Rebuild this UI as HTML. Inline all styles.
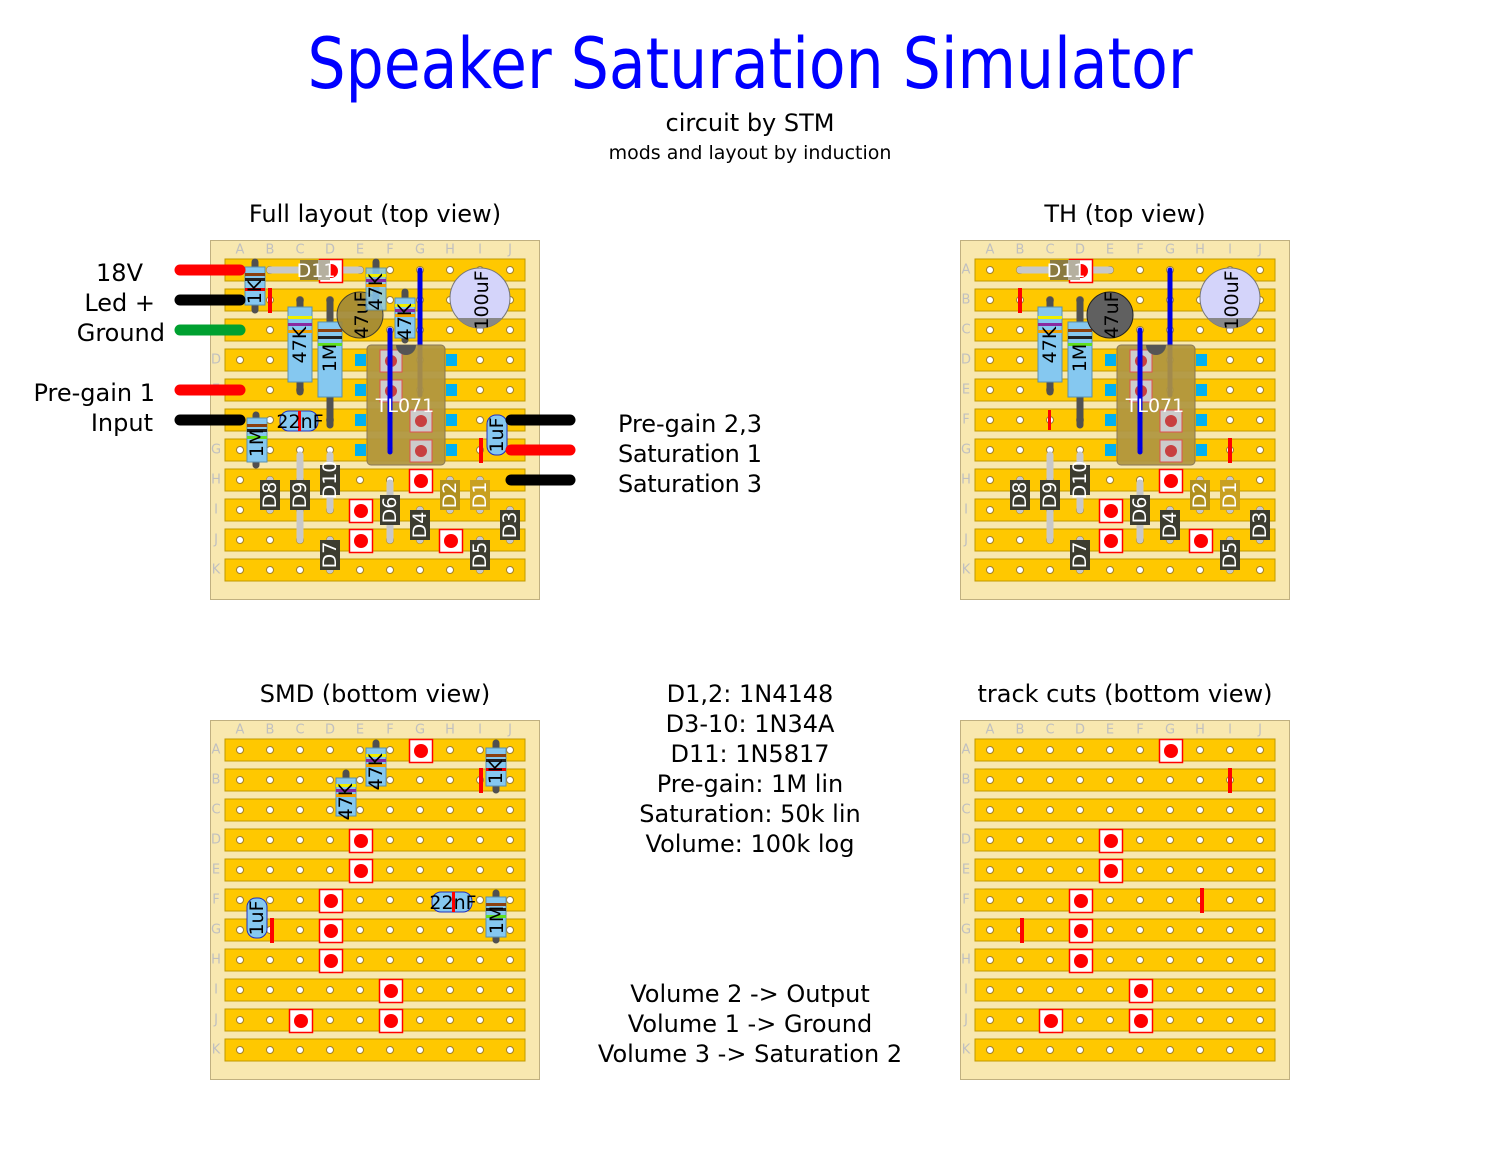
<!DOCTYPE html>
<html><head><meta charset="utf-8"><style>
html,body{margin:0;padding:0;background:#fff}
svg{display:block}
text{font-family:"DejaVu Sans","Liberation Sans",sans-serif}
.lt{fill:#c0c0c0;font-size:13px;text-anchor:middle;dominant-baseline:central}
.lbl{font-size:24px;fill:#000}
.rl{font-size:19px;text-anchor:middle;dominant-baseline:central}
.wl{fill:#fff}
.bl{fill:#000}
.res{fill:#85c8f0;stroke:#5a90b0;stroke-width:1}
.dio{fill:#3c3c30}
.pad{fill:#fff;stroke:#f00;stroke-width:1.5}
</style></head><body>
<svg width="1500" height="1170" viewBox="0 0 1500 1170" xmlns="http://www.w3.org/2000/svg">
<defs>
<g id="base">
<rect x="0.5" y="0.5" width="329" height="359" fill="#f8e8b0" stroke="#c0b080"/>
<g fill="#ffc800" stroke="#c09a00" stroke-width="1">
<rect x="15" y="19" width="300" height="22"/><rect x="15" y="49" width="300" height="22"/><rect x="15" y="79" width="300" height="22"/><rect x="15" y="109" width="300" height="22"/><rect x="15" y="139" width="300" height="22"/><rect x="15" y="169" width="300" height="22"/><rect x="15" y="199" width="300" height="22"/><rect x="15" y="229" width="300" height="22"/><rect x="15" y="259" width="300" height="22"/><rect x="15" y="289" width="300" height="22"/><rect x="15" y="319" width="300" height="22"/>
</g>
<g id="holes">
<g id="hrow" fill="#fff" stroke="#a08030" stroke-width="1">
<circle cx="30" cy="30" r="3.5"/><circle cx="60" cy="30" r="3.5"/><circle cx="90" cy="30" r="3.5"/><circle cx="120" cy="30" r="3.5"/><circle cx="150" cy="30" r="3.5"/><circle cx="180" cy="30" r="3.5"/><circle cx="210" cy="30" r="3.5"/><circle cx="240" cy="30" r="3.5"/><circle cx="270" cy="30" r="3.5"/><circle cx="300" cy="30" r="3.5"/>
</g>
<use href="#hrow" y="30"/><use href="#hrow" y="60"/><use href="#hrow" y="90"/><use href="#hrow" y="120"/><use href="#hrow" y="150"/><use href="#hrow" y="180"/><use href="#hrow" y="210"/><use href="#hrow" y="240"/><use href="#hrow" y="270"/><use href="#hrow" y="300"/>
</g>
</g>
<g id="pad"><rect x="-11.5" y="-11.5" width="23" height="23" class="pad"/><circle r="7" fill="#f00"/></g>
</defs>

<text x="750" y="88" font-size="70" fill="#0000ff" text-anchor="middle" textLength="885" lengthAdjust="spacingAndGlyphs">Speaker Saturation Simulator</text>
<text x="750" y="131" font-size="24" text-anchor="middle">circuit by STM</text>
<text x="750" y="159" font-size="19" text-anchor="middle">mods and layout by induction</text>
<text x="375" y="222" class="lbl" text-anchor="middle">Full layout (top view)</text>
<text x="1125" y="222" class="lbl" text-anchor="middle">TH (top view)</text>
<text x="375" y="702" class="lbl" text-anchor="middle">SMD (bottom view)</text>
<text x="1125" y="702" class="lbl" text-anchor="middle">track cuts (bottom view)</text>

<g class="lbl" text-anchor="end">
<text x="143" y="281">18V</text>
<text x="155" y="311">Led +</text>
<text x="165" y="341">Ground</text>
<text x="155" y="401">Pre-gain 1</text>
<text x="153" y="431">Input</text>
</g>
<g class="lbl">
<text x="618" y="432" textLength="144">Pre-gain 2,3</text>
<text x="618" y="462" textLength="144">Saturation 1</text>
<text x="618" y="492" textLength="144">Saturation 3</text>
</g>
<g class="lbl" text-anchor="middle">
<text x="750" y="702">D1,2: 1N4148</text>
<text x="750" y="732">D3-10: 1N34A</text>
<text x="750" y="762">D11: 1N5817</text>
<text x="750" y="792">Pre-gain: 1M lin</text>
<text x="750" y="822">Saturation: 50k lin</text>
<text x="750" y="852">Volume: 100k log</text>
<text x="750" y="1002">Volume 2 -&gt; Output</text>
<text x="750" y="1032">Volume 1 -&gt; Ground</text>
<text x="750" y="1062">Volume 3 -&gt; Saturation 2</text>
</g>

<g transform="translate(210,240)">
<use href="#base"/>
<g class="lt"><text x="30" y="10">A</text><text x="60" y="10">B</text><text x="90" y="10">C</text><text x="120" y="10">D</text><text x="150" y="10">E</text><text x="180" y="10">F</text><text x="210" y="10">G</text><text x="240" y="10">H</text><text x="270" y="10">I</text><text x="300" y="10">J</text>
<text x="6" y="120">D</text><text x="6" y="150">E</text><text x="6" y="210">G</text><text x="6" y="240">H</text><text x="6" y="270">I</text><text x="6" y="300">J</text><text x="6" y="330">K</text></g>
</g>
<g transform="translate(960,240)">
<use href="#base"/>
<g class="lt"><text x="30" y="10">A</text><text x="60" y="10">B</text><text x="90" y="10">C</text><text x="120" y="10">D</text><text x="150" y="10">E</text><text x="180" y="10">F</text><text x="210" y="10">G</text><text x="240" y="10">H</text><text x="270" y="10">I</text><text x="300" y="10">J</text>
<text x="6" y="30">A</text><text x="6" y="60">B</text><text x="6" y="90">C</text><text x="6" y="120">D</text><text x="6" y="150">E</text><text x="6" y="180">F</text><text x="6" y="210">G</text><text x="6" y="240">H</text><text x="6" y="270">I</text><text x="6" y="300">J</text><text x="6" y="330">K</text></g>
</g>
<g transform="translate(210,720)">
<use href="#base"/>
<g class="lt"><text x="30" y="10">A</text><text x="60" y="10">B</text><text x="90" y="10">C</text><text x="120" y="10">D</text><text x="150" y="10">E</text><text x="180" y="10">F</text><text x="210" y="10">G</text><text x="240" y="10">H</text><text x="270" y="10">I</text><text x="300" y="10">J</text>
<text x="6" y="30">A</text><text x="6" y="60">B</text><text x="6" y="90">C</text><text x="6" y="120">D</text><text x="6" y="150">E</text><text x="6" y="180">F</text><text x="6" y="210">G</text><text x="6" y="240">H</text><text x="6" y="270">I</text><text x="6" y="300">J</text><text x="6" y="330">K</text></g>
</g>
<g transform="translate(960,720)">
<use href="#base"/>
<g class="lt"><text x="30" y="10">A</text><text x="60" y="10">B</text><text x="90" y="10">C</text><text x="120" y="10">D</text><text x="150" y="10">E</text><text x="180" y="10">F</text><text x="210" y="10">G</text><text x="240" y="10">H</text><text x="270" y="10">I</text><text x="300" y="10">J</text>
<text x="6" y="30">A</text><text x="6" y="60">B</text><text x="6" y="90">C</text><text x="6" y="120">D</text><text x="6" y="150">E</text><text x="6" y="180">F</text><text x="6" y="210">G</text><text x="6" y="240">H</text><text x="6" y="270">I</text><text x="6" y="300">J</text><text x="6" y="330">K</text></g>
</g>

<g id="top">
<line x1="270" y1="270" x2="360" y2="270" stroke="#c8c8c8" stroke-width="7" stroke-linecap="round"/>
<use href="#pad" x="331" y="271"/>
<rect x="300" y="260" width="30" height="20" fill="#8a7a40"/>
<rect x="318" y="260" width="12" height="20" fill="#c8c8c8" opacity="0.7"/>
<text x="316" y="271" class="rl wl" font-size="20">D11</text>
<line x1="300" y1="300" x2="300" y2="392" stroke="#505050" stroke-width="7" stroke-linecap="round"/>
<rect x="288" y="307" width="24" height="75" class="res"/>
<rect x="288" y="316" width="24" height="3" fill="#ee0"/><rect x="288" y="323" width="24" height="3" fill="#8a2aa0"/><rect x="288" y="330" width="24" height="3" fill="#f0a000"/>
<text transform="translate(300,345) rotate(-90)" class="rl bl" font-size="21">47K</text>
<line x1="330" y1="300" x2="330" y2="425" stroke="#505050" stroke-width="7" stroke-linecap="round"/>
<rect x="318" y="322" width="24" height="75" class="res"/>
<rect x="318" y="329" width="24" height="3" fill="#8a4010"/><rect x="318" y="336" width="24" height="3" fill="#222"/><rect x="318" y="343" width="24" height="3" fill="#60e020"/>
<text transform="translate(330,358) rotate(-90)" class="rl bl" font-size="21">1M</text>
<line x1="420" y1="270" x2="420" y2="395" stroke="#0000e0" stroke-width="5" stroke-linecap="round"/>
<g fill="#00b0f0"><rect x="355" y="354" width="11" height="12"/><rect x="355" y="384" width="11" height="12"/><rect x="355" y="414" width="11" height="12"/><rect x="355" y="444" width="11" height="12"/><rect x="446" y="354" width="11" height="12"/><rect x="446" y="384" width="11" height="12"/><rect x="446" y="414" width="11" height="12"/><rect x="446" y="444" width="11" height="12"/></g>
<rect x="367" y="345" width="78" height="120" rx="4" fill="#b09640" stroke="#807050" opacity="0.92"/>
<g fill="#ccc" stroke="#e05050" stroke-width="1"><rect x="380" y="350" width="22" height="22"/><rect x="380" y="380" width="22" height="22"/><rect x="410" y="410" width="22" height="22"/><rect x="410" y="440" width="22" height="22"/></g>
<g fill="#c84040"><circle cx="391" cy="361" r="6"/><circle cx="391" cy="391" r="6"/><circle cx="421" cy="421" r="6"/><circle cx="421" cy="451" r="6"/></g>
<path d="M396,345 a10,10 0 0 0 20,0 z" fill="#555"/>
<line x1="390" y1="330" x2="390" y2="452" stroke="#0000e0" stroke-width="5" stroke-linecap="round"/>
<text x="405" y="406" class="rl wl" font-size="20">TL071</text>
<circle cx="480" cy="298" r="30" fill="#d4d4fa" stroke="#777"/>
<path d="M457.6,318 A30,30 0 0 0 502.4,318 Z" fill="#888"/>
<text transform="translate(482,300) rotate(-90)" class="rl bl" font-size="20">100uF</text>
<g stroke="#c8c8c8" stroke-width="7" stroke-linecap="round">
<line x1="300" y1="455" x2="300" y2="540"/><line x1="330" y1="455" x2="330" y2="510"/><line x1="390" y1="483" x2="390" y2="540"/>
<line x1="270" y1="480" x2="270" y2="510"/><line x1="330" y1="540" x2="330" y2="570"/><line x1="420" y1="510" x2="420" y2="540"/><line x1="450" y1="480" x2="450" y2="510"/><line x1="480" y1="480" x2="480" y2="510"/><line x1="510" y1="510" x2="510" y2="540"/><line x1="480" y1="540" x2="480" y2="570"/>
</g>
<use href="#pad" x="421" y="481"/><use href="#pad" x="361" y="511"/><use href="#pad" x="361" y="541"/><use href="#pad" x="451" y="541"/>
<g>
<rect x="260" y="480" width="20" height="30" class="dio"/><text transform="translate(270,495) rotate(-90)" class="rl wl">D8</text>
<rect x="290" y="480" width="20" height="30" class="dio"/><text transform="translate(300,495) rotate(-90)" class="rl wl">D9</text>
<rect x="320" y="465" width="20" height="30" class="dio"/><text transform="translate(330,480) rotate(-90)" class="rl wl">D10</text>
<rect x="380" y="495" width="20" height="30" class="dio"/><text transform="translate(390,510) rotate(-90)" class="rl wl">D6</text>
<rect x="410" y="510" width="20" height="30" class="dio"/><text transform="translate(420,525) rotate(-90)" class="rl wl">D4</text>
<rect x="440" y="480" width="20" height="30" fill="#b09020"/><text transform="translate(450,495) rotate(-90)" class="rl wl">D2</text>
<rect x="470" y="480" width="20" height="30" fill="#c8a020"/><text transform="translate(480,495) rotate(-90)" class="rl wl">D1</text>
<rect x="500" y="510" width="20" height="30" class="dio"/><text transform="translate(510,525) rotate(-90)" class="rl wl">D3</text>
<rect x="320" y="540" width="20" height="30" class="dio"/><text transform="translate(330,555) rotate(-90)" class="rl wl">D7</text>
<rect x="470" y="540" width="20" height="30" class="dio"/><text transform="translate(480,555) rotate(-90)" class="rl wl">D5</text>
</g>
</g>

<circle cx="360" cy="315" r="23" fill="#a08838" stroke="#333" opacity="0.9"/>
<text transform="translate(362,315) rotate(-90)" class="rl bl" font-size="20">47uF</text>
<line x1="255" y1="262" x2="255" y2="310" stroke="#505050" stroke-width="7" stroke-linecap="round"/>
<rect x="245" y="267" width="20" height="38" class="res"/>
<rect x="245" y="273" width="20" height="3" fill="#8a4010"/><rect x="245" y="278" width="20" height="3" fill="#222"/><rect x="245" y="288" width="20" height="3" fill="#e00"/>
<text transform="translate(255,292) rotate(-90)" class="rl bl">1K</text>
<rect x="268" y="288" width="4" height="25" fill="#f00"/>
<line x1="376" y1="262" x2="376" y2="305" stroke="#505050" stroke-width="7" stroke-linecap="round"/>
<rect x="366" y="268" width="20" height="42" class="res" opacity="0.85"/>
<rect x="366" y="274" width="20" height="3" fill="#ee0"/><rect x="366" y="279" width="20" height="3" fill="#8a2aa0"/><rect x="366" y="284" width="20" height="3" fill="#f0a000"/>
<text transform="translate(376,292) rotate(-90)" class="rl bl">47K</text>
<line x1="405" y1="292" x2="405" y2="340" stroke="#505050" stroke-width="7" stroke-linecap="round"/>
<rect x="395" y="298" width="20" height="40" class="res"/>
<rect x="395" y="304" width="20" height="3" fill="#ee0"/><rect x="395" y="309" width="20" height="3" fill="#8a2aa0"/><rect x="395" y="314" width="20" height="3" fill="#f0a000"/>
<text transform="translate(405,322) rotate(-90)" class="rl bl">47K</text>
<rect x="280" y="411" width="38" height="20" rx="9" fill="#85c8f0" stroke="#2030c0"/>
<rect x="298" y="411" width="3" height="20" fill="#f00"/>
<text x="300" y="422" class="rl bl">22nF</text>
<line x1="256" y1="415" x2="256" y2="465" stroke="#505050" stroke-width="7" stroke-linecap="round"/>
<rect x="247" y="418" width="20" height="44" class="res"/>
<rect x="247" y="424" width="20" height="3" fill="#8a4010"/><rect x="247" y="429" width="20" height="3" fill="#222"/><rect x="247" y="436" width="20" height="3" fill="#60e020"/>
<text transform="translate(257,443) rotate(-90)" class="rl bl">1M</text>
<rect x="487" y="415" width="20" height="40" rx="9" fill="#85c8f0" stroke="#2030c0"/>
<text transform="translate(497,435) rotate(-90)" class="rl bl">1uF</text>
<rect x="479" y="438" width="4" height="25" fill="#f00"/>
<g stroke-width="11" stroke-linecap="round">
<line x1="180" y1="270" x2="240" y2="270" stroke="#f00"/>
<line x1="180" y1="300" x2="240" y2="300" stroke="#000"/>
<line x1="180" y1="330" x2="240" y2="330" stroke="#00a030"/>
<line x1="180" y1="390" x2="240" y2="390" stroke="#f00"/>
<line x1="180" y1="420" x2="240" y2="420" stroke="#000"/>
<line x1="511" y1="420" x2="570" y2="420" stroke="#000"/>
<line x1="511" y1="450" x2="570" y2="450" stroke="#f00"/>
<line x1="511" y1="480" x2="570" y2="480" stroke="#000"/>
</g>

<g transform="translate(750,0)">
<use href="#top"/>
<circle cx="360" cy="315" r="23" fill="#606060" stroke="#222"/>
<text transform="translate(362,315) rotate(-90)" class="rl bl" font-size="20">47uF</text>
<rect x="268" y="288" width="4" height="25" fill="#f00"/>
<rect x="298" y="410" width="3" height="20" fill="#f00"/>
<rect x="478" y="438" width="4" height="25" fill="#f00"/>
</g>

<use href="#pad" x="421" y="751"/><use href="#pad" x="361" y="841"/><use href="#pad" x="361" y="871"/><use href="#pad" x="331" y="901"/><use href="#pad" x="331" y="931"/><use href="#pad" x="331" y="961"/><use href="#pad" x="391" y="991"/><use href="#pad" x="301" y="1021"/><use href="#pad" x="391" y="1021"/>
<line x1="376" y1="743" x2="376" y2="785" stroke="#505050" stroke-width="7" stroke-linecap="round"/>
<rect x="366" y="748" width="20" height="38" class="res"/>
<rect x="366" y="754" width="20" height="3" fill="#ee0"/><rect x="366" y="759" width="20" height="3" fill="#8a2aa0"/><rect x="366" y="764" width="20" height="3" fill="#f0a000"/>
<text transform="translate(376,772) rotate(-90)" class="rl bl">47K</text>
<line x1="346" y1="773" x2="346" y2="815" stroke="#505050" stroke-width="7" stroke-linecap="round"/>
<rect x="336" y="778" width="20" height="38" class="res"/>
<rect x="336" y="784" width="20" height="3" fill="#ee0"/><rect x="336" y="789" width="20" height="3" fill="#8a2aa0"/><rect x="336" y="794" width="20" height="3" fill="#f0a000"/>
<text transform="translate(346,802) rotate(-90)" class="rl bl">47K</text>
<line x1="496" y1="743" x2="496" y2="790" stroke="#505050" stroke-width="7" stroke-linecap="round"/>
<rect x="486" y="748" width="20" height="38" class="res"/>
<rect x="486" y="754" width="20" height="3" fill="#8a4010"/><rect x="486" y="759" width="20" height="3" fill="#222"/><rect x="486" y="768" width="20" height="3" fill="#e00"/>
<text transform="translate(496,772) rotate(-90)" class="rl bl">1K</text>
<rect x="479" y="768" width="4" height="25" fill="#f00"/>
<rect x="247" y="898" width="20" height="40" rx="9" fill="#85c8f0" stroke="#2030c0"/>
<text transform="translate(257,918) rotate(-90)" class="rl bl">1uF</text>
<rect x="270" y="918" width="4" height="25" fill="#f00"/>
<rect x="432" y="892" width="40" height="20" rx="9" fill="#85c8f0" stroke="#2030c0"/>
<rect x="452" y="892" width="3" height="20" fill="#f00"/>
<text x="453" y="903" class="rl bl">22nF</text>
<line x1="496" y1="893" x2="496" y2="940" stroke="#505050" stroke-width="7" stroke-linecap="round"/>
<rect x="486" y="897" width="20" height="40" class="res"/>
<rect x="486" y="903" width="20" height="3" fill="#8a4010"/><rect x="486" y="908" width="20" height="3" fill="#222"/><rect x="486" y="915" width="20" height="3" fill="#60e020"/>
<text transform="translate(497,920) rotate(-90)" class="rl bl">1M</text>

<use href="#pad" x="1171" y="751"/><use href="#pad" x="1111" y="841"/><use href="#pad" x="1111" y="871"/><use href="#pad" x="1081" y="901"/><use href="#pad" x="1081" y="931"/><use href="#pad" x="1081" y="961"/><use href="#pad" x="1141" y="991"/><use href="#pad" x="1051" y="1021"/><use href="#pad" x="1141" y="1021"/>
<rect x="1228" y="768" width="4" height="25" fill="#f00"/>
<rect x="1200" y="888" width="4" height="25" fill="#f00"/>
<rect x="1020" y="918" width="4" height="25" fill="#f00"/>
</svg>
</body></html>
